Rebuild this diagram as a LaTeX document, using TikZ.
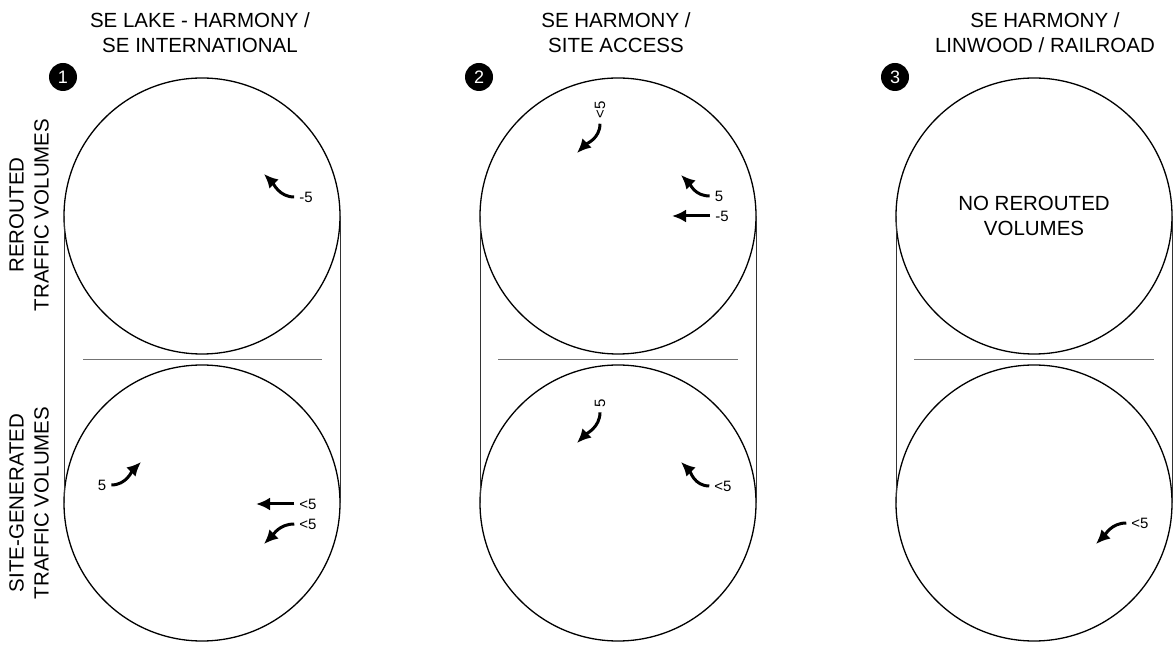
\documentclass[tikz,border=0pt]{standalone}
\usepackage{fontspec}
\setmainfont{Liberation Sans}
\usetikzlibrary{arrows.meta}

\begin{document}
\begin{tikzpicture}[x=1pt,y=1pt]
\tikzset{ring/.style = {shape=circle,draw,line width=1.3pt,minimum size=276pt,inner sep=0pt,outer sep=0pt}}
\tikzset{badge/.style = {shape=circle,fill=black,text=white,minimum size=28pt,inner sep=0pt,font=\fontsize{18}{18}\selectfont}}
\tikzset{title/.style = {align=center,inner sep=0pt,font=\fontsize{20.5}{25}\selectfont}}
\tikzset{vol/.style = {inner sep=0pt,font=\fontsize{15}{15}\selectfont}}
\tikzset{turn/.style = {-{Latex[length=14pt,width=13pt]},line width=3pt,shorten <=5pt}}
\tikzset{side/.style = {draw=black!80,line width=0.6pt}}
\tikzset{split/.style = {draw=black!55,line width=1pt}}

\useasboundingbox (0,0) rectangle (1175,656);

%intersections
\node[ring] (c1t) at (202,440) {};
\node[ring] (c1b) at (202,153) {};
\node[ring] (c2t) at (618,440) {};
\node[ring] (c2b) at (618,153) {};
\node[ring] (c3t) at (1034,440) {};
\node[ring] (c3b) at (1034,153) {};

\draw[side] (c1t.west) -- (c1b.west);
\draw[side] (c1t.east) -- (c1b.east);
\draw[side] (c2t.west) -- (c2b.west);
\draw[side] (c2t.east) -- (c2b.east);
\draw[side] (c3t.west) -- (c3b.west);
\draw[side] (c3t.east) -- (c3b.east);

\draw[split] (83,296) -- (322,296);
\draw[split] (498,296) -- (738,296);
\draw[split] (914,296) -- (1154,296);

%headings
\node[title] (t1) at (200,623) {SE LAKE - HARMONY /\\SE INTERNATIONAL};
\node[title] (t2) at (616,623) {SE HARMONY /\\SITE ACCESS};
\node[title] (t3) at (1045,623) {SE HARMONY /\\LINWOOD / RAILROAD};

\node[badge] (n1) at (63,579) {1};
\node[badge] (n2) at (479,579) {2};
\node[badge] (n3) at (895,579) {3};

\node[title,rotate=90] (s1) at (29,441) {REROUTED\\TRAFFIC VOLUMES};
\node[title,rotate=90] (s2) at (29,153) {SITE-GENERATED\\TRAFFIC VOLUMES};

\node[title] (nr) at (1034,440) {NO REROUTED\\VOLUMES};

%volumes
\node[vol] (v1) at (306,459) {-5};
\coordinate (h1) at (264,482);
\draw[turn] (v1.west) .. controls +(-20,0) and +(9,-9) .. (h1);

\node[vol,rotate=90] (v2) at (600,546) {<5};
\coordinate (h2) at (577,503);
\draw[turn] (v2.west) .. controls +(0,-20) and +(9,9) .. (h2);

\node[vol] (v3) at (719,460) {5};
\coordinate (h3) at (681,481);
\draw[turn] (v3.west) .. controls +(-20,0) and +(9,-9) .. (h3);

\node[vol] (v4) at (722,440) {-5};
\coordinate (h4) at (672,440);
\draw[turn] (v4.west) -- (h4);

\node[vol] (v5) at (102,171) {5};
\coordinate (h5) at (141,194);
\draw[turn] (v5.east) .. controls +(20,0) and +(-9,-9) .. (h5);

\node[vol] (v6) at (308,152) {<5};
\coordinate (h6) at (256,152);
\draw[turn] (v6.west) -- (h6);

\node[vol] (v7) at (308,132) {<5};
\coordinate (h7) at (264,112);
\draw[turn] (v7.west) .. controls +(-20,0) and +(9,9) .. (h7);

\node[vol,rotate=90] (v8) at (600,253) {5};
\coordinate (h8) at (577,213);
\draw[turn] (v8.west) .. controls +(0,-20) and +(9,9) .. (h8);

\node[vol] (v9) at (723,170) {<5};
\coordinate (h9) at (681,194);
\draw[turn] (v9.west) .. controls +(-20,0) and +(9,-9) .. (h9);

\node[vol] (v10) at (1140,133) {<5};
\coordinate (h10) at (1096,112);
\draw[turn] (v10.west) .. controls +(-20,0) and +(9,9) .. (h10);

\end{tikzpicture}
\end{document}
